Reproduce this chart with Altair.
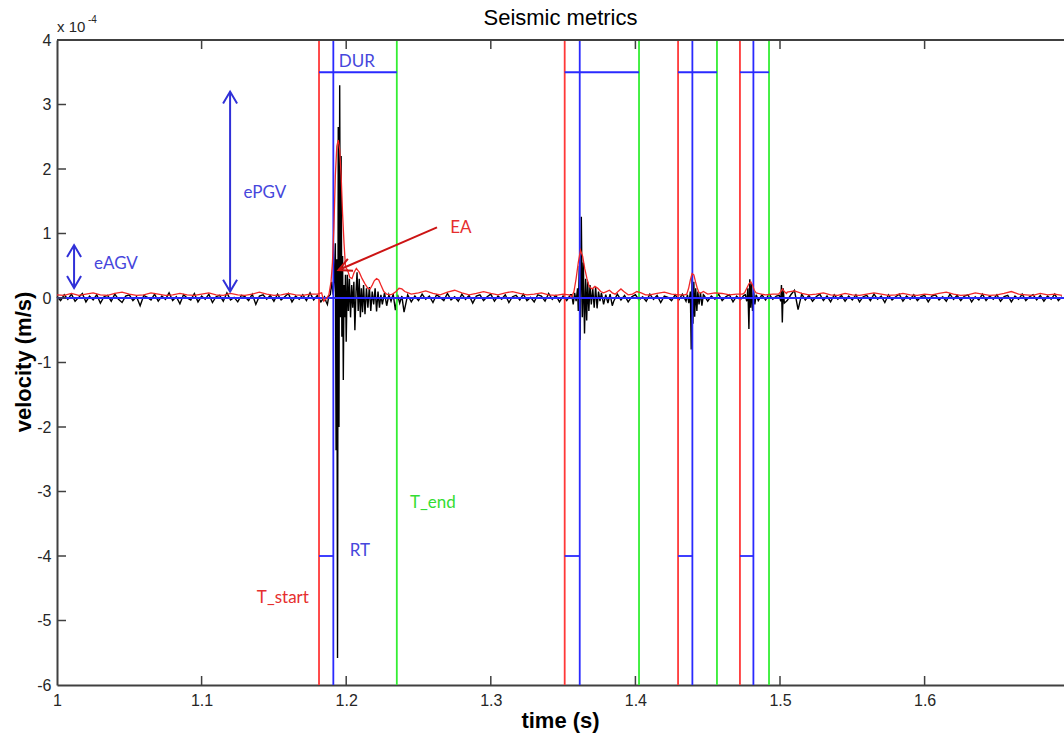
import altair as alt
import pandas as pd

# ---------------- axes ----------------
X_DOMAIN = [1.0, 1.6964]
Y_DOMAIN = [-6, 4]
W, H = 1007, 645
x_tick_values = [1.0, 1.1, 1.2, 1.3, 1.4, 1.5, 1.6]
y_tick_values = [-6, -5, -4, -3, -2, -1, 0, 1, 2, 3, 4]

# ---------------- picked times (s) ----------------
t_start = [1.1812, 1.3511, 1.4295, 1.4723]
t_peak = [1.1911, 1.3615, 1.4394, 1.4816]
t_end = [1.2350, 1.4025, 1.4564, 1.4924]
dur_level = 3.5     # x 1e-4 m/s
rt_level = -4.0

# ---------------- velocity trace (x 1e-4 m/s) ----------------
bg_t0, bg_dt = 1.0, 0.0025
black_bg = [
    0.02, -0.04, 0.05, -0.02, 0.06, -0.05, 0.01, 0.07, -0.06, 0.03, -0.03, 0.05, -0.08, 0.02, 0.04, -0.05, 0.06, -0.02, -0.07, 0.03,
    0.05, -0.04, 0.02, -0.12, 0.04, 0.01, -0.03, 0.06, -0.05, 0.03, -0.02, 0.08, -0.04, 0.02, -0.09, 0.05, 0.00, -0.03, 0.07, -0.06,
    0.03, -0.02, 0.06, -0.07, 0.02, 0.04, -0.05, 0.08, -0.03, 0.01, -0.06, 0.04, 0.02, -0.04, 0.06, -0.10, 0.03, 0.05, -0.02, 0.04,
    -0.05, 0.06, -0.03, 0.02, 0.07, -0.06, 0.03, -0.02, 0.05, -0.04, 0.08, -0.03, 0.04, -0.06, 0.02, 0.05, -0.08, 0.03, -0.04, 0.05,
    0.06, -0.05, 0.03, -0.04, 0.07, -0.03, 0.05, -0.06, 0.02, 0.04, -0.05, 0.06, -0.03, 0.02, -0.07, 0.05, -0.02, 0.05, -0.06, 0.03,
    -0.04, 0.06, -0.02, 0.03, -0.07, 0.05, 0.01, -0.04, 0.07, -0.03, 0.02, -0.05, 0.06, -0.02, 0.04, -0.08, 0.03, 0.05, -0.04, 0.02,
    0.06, -0.05, 0.03, -0.02, 0.05, -0.07, 0.02, 0.04, -0.03, 0.06, -0.04, 0.01, -0.06, 0.05, 0.03, -0.05, 0.07, -0.02, 0.04, -0.06,
    0.03, -0.04, 0.05, -0.03, 0.06, -0.05, 0.04, -0.02, 0.05, -0.06, 0.03, -0.04, 0.02, -0.03, -0.05, 0.06, -0.03, 0.04, -0.06, 0.02,
    0.05, -0.03, 0.02, -0.05, 0.06, -0.02, 0.04, -0.07, 0.03, 0.01, -0.04, 0.05, -0.03, 0.06, -0.05, 0.03, -0.04, 0.05, -0.02, 0.04,
    -0.05, 0.03, -0.02, 0.06, -0.04, 0.02, 0.05, -0.06, 0.03, -0.03, 0.04, -0.02, 0.05, -0.03, -0.04, 0.05, -0.03, 0.06, -0.02, 0.03,
    0.04, -0.03, -0.04, 0.05, 0.12, -0.18, 0.06, -0.03, 0.04, -0.05, 0.02, 0.06, -0.04, 0.03, -0.06, 0.05, -0.02, 0.04, -0.05, 0.03,
    -0.03, 0.05, -0.06, 0.02, 0.04, -0.04, 0.06, -0.02, 0.03, -0.07, 0.05, -0.03, 0.02, 0.06, -0.05, 0.03, -0.02, 0.05, -0.04, 0.02,
    0.04, -0.06, 0.03, 0.05, -0.03, 0.02, -0.05, 0.06, -0.02, 0.04, -0.04, 0.03, 0.05, -0.06, 0.02, -0.03, 0.06, -0.04, 0.03, -0.02,
    0.05, -0.05, 0.02, 0.04, -0.06, 0.03, -0.02, 0.06, -0.04, 0.02, 0.05, -0.03, 0.04, -0.05, 0.03, -0.02, 0.06, -0.04, 0.02, 0.03,
]
black_ev1 = [
    (1.1860, -0.05), (1.1870, -0.10), (1.1880, 0.03), (1.1890, 0.05), (1.1900, 0.25), (1.1910, 0.05),
    (1.1918, 0.30), (1.1925, 0.85), (1.1930, -2.36), (1.1935, 0.60), (1.1940, -5.58), (1.1945, 2.65),
    (1.1950, -2.00), (1.1955, 3.30), (1.1960, -0.30), (1.1965, 2.20), (1.1970, -0.60), (1.1975, 0.65),
    (1.1980, -1.27), (1.1985, 0.20), (1.1990, -0.30), (1.1995, 0.36), (1.2000, -0.68), (1.2008, 0.36),
    (1.2015, -0.20), (1.2022, 0.30), (1.2030, -0.30), (1.2038, 0.20), (1.2045, -0.15), (1.2053, 0.25),
    (1.2060, -0.50), (1.2068, 0.10), (1.2075, 0.40), (1.2083, -0.20), (1.2090, 0.30), (1.2098, -0.30),
    (1.2105, 0.15), (1.2113, -0.22), (1.2120, 0.20), (1.2130, -0.25), (1.2140, 0.15), (1.2150, -0.15),
    (1.2160, 0.17), (1.2170, -0.20), (1.2180, 0.10), (1.2190, -0.10), (1.2200, 0.15), (1.2210, -0.21),
    (1.2220, 0.10), (1.2230, -0.15), (1.2240, 0.05), (1.2250, -0.10), (1.2265, 0.08), (1.2280, -0.12),
    (1.2295, 0.05), (1.2310, -0.05), (1.2325, 0.06), (1.2340, -0.19), (1.2355, 0.05), (1.2370, -0.08),
    (1.2385, 0.03), (1.2400, -0.22),
]
black_ev2 = [
    (1.3560, 0.05), (1.3570, -0.10), (1.3580, 0.08), (1.3590, -0.05), (1.3600, 0.15), (1.3605, -0.20),
    (1.3612, 0.50), (1.3618, -0.65), (1.3626, 1.26), (1.3633, -0.30), (1.3640, 0.55), (1.3648, -0.55),
    (1.3656, 0.30), (1.3663, -0.35), (1.3670, 0.25), (1.3678, -0.20), (1.3686, 0.20), (1.3695, -0.10),
    (1.3705, 0.15), (1.3715, -0.15), (1.3725, 0.17), (1.3735, -0.16), (1.3745, 0.10), (1.3755, -0.05),
    (1.3765, 0.08), (1.3780, -0.10), (1.3795, 0.05), (1.3810, -0.08), (1.3825, 0.06), (1.3840, -0.12),
]
black_ev3 = [
    (1.4360, 0.05), (1.4370, -0.08), (1.4380, 0.10), (1.4386, -0.80), (1.4392, 0.33), (1.4398, -0.40),
    (1.4404, 0.25), (1.4410, -0.29), (1.4417, 0.15), (1.4425, -0.20), (1.4432, 0.10), (1.4440, -0.10),
    (1.4450, 0.08), (1.4460, -0.12), (1.4470, 0.05),
]
black_ev4 = [
    (1.4760, 0.05), (1.4770, -0.05), (1.4778, 0.15), (1.4785, -0.48), (1.4791, 0.29), (1.4797, -0.15),
    (1.4803, 0.22), (1.4810, -0.20), (1.4818, 0.10), (1.4826, -0.10), (1.4835, 0.05),
]
black_ev5 = [
    (1.4995, 0.04), (1.5005, -0.05), (1.5010, 0.20), (1.5016, -0.38), (1.5022, 0.15), (1.5030, -0.08),
]

# ---------------- envelope (x 1e-4 m/s) ----------------
red_t0, red_dt = 1.0, 0.005
red_bg = [
    0.05, 0.04, 0.07, 0.04, 0.06, 0.08, 0.05, 0.04, 0.07, 0.09, 0.06, 0.04, 0.05, 0.08, 0.06, 0.04, 0.05, 0.07, 0.05, 0.04,
    0.06, 0.08, 0.05, 0.04, 0.07, 0.05, 0.04, 0.06, 0.09, 0.06, 0.04, 0.05, 0.07, 0.05, 0.04, 0.06, 0.05, 0.05, 0.05, 0.05,
    0.05, 0.05, 0.05, 0.05, 0.05, 0.05, 0.05, 0.05, 0.05, 0.06, 0.08, 0.11, 0.07, 0.05, 0.09, 0.12, 0.08, 0.05, 0.07, 0.10,
    0.07, 0.05, 0.08, 0.10, 0.07, 0.05, 0.06, 0.08, 0.05, 0.04, 0.06, 0.05, 0.05, 0.05, 0.05, 0.05, 0.05, 0.05, 0.05, 0.05,
    0.05, 0.05, 0.05, 0.07, 0.09, 0.06, 0.05, 0.05, 0.05, 0.05, 0.06, 0.08, 0.07, 0.05, 0.06, 0.05, 0.05, 0.05, 0.05, 0.06,
    0.05, 0.09, 0.11, 0.07, 0.05, 0.06, 0.08, 0.05, 0.04, 0.07, 0.05, 0.04, 0.06, 0.08, 0.06, 0.04, 0.05, 0.07, 0.05, 0.04,
    0.06, 0.05, 0.07, 0.09, 0.06, 0.04, 0.05, 0.08, 0.06, 0.04, 0.05, 0.07, 0.10, 0.06, 0.05, 0.04, 0.07, 0.05, 0.06, 0.04,
]
red_ev1 = [
    (1.1800, 0.06), (1.1830, 0.08), (1.1845, -0.05), (1.1865, 0.00), (1.1880, 0.05), (1.1895, 0.25),
    (1.1905, 0.55), (1.1915, 1.10), (1.1925, 1.90), (1.1935, 2.35), (1.1945, 2.45), (1.1955, 2.30),
    (1.1965, 1.90), (1.1975, 1.30), (1.1985, 0.85), (1.1995, 0.48), (1.2010, 0.43), (1.2025, 0.32),
    (1.2040, 0.30), (1.2055, 0.40), (1.2070, 0.46), (1.2090, 0.40), (1.2110, 0.30), (1.2130, 0.22),
    (1.2150, 0.15), (1.2165, 0.14), (1.2180, 0.20), (1.2195, 0.27), (1.2210, 0.30), (1.2225, 0.28),
    (1.2240, 0.20), (1.2260, 0.10), (1.2280, 0.06), (1.2300, 0.05), (1.2320, 0.06), (1.2345, 0.10),
    (1.2365, 0.15), (1.2385, 0.14), (1.2405, 0.10), (1.2430, 0.08),
]
red_ev2 = [
    (1.3540, 0.05), (1.3560, 0.02), (1.3575, 0.10), (1.3590, 0.30), (1.3605, 0.55), (1.3620, 0.74),
    (1.3635, 0.65), (1.3650, 0.45), (1.3665, 0.30), (1.3680, 0.18), (1.3700, 0.14), (1.3720, 0.18),
    (1.3740, 0.15), (1.3760, 0.10), (1.3780, 0.08), (1.3800, 0.10), (1.3820, 0.12), (1.3840, 0.08),
    (1.3860, 0.06), (1.3880, 0.10), (1.3900, 0.14), (1.3920, 0.10), (1.3950, 0.05), (1.3980, 0.06),
    (1.4010, 0.10), (1.4040, 0.08), (1.4070, 0.05),
]
red_ev3 = [
    (1.4340, 0.05), (1.4355, 0.06), (1.4368, 0.15), (1.4380, 0.28), (1.4392, 0.38), (1.4404, 0.36),
    (1.4416, 0.25), (1.4428, 0.15), (1.4440, 0.08), (1.4455, 0.08), (1.4470, 0.10),
]
red_ev4 = [
    (1.4740, 0.06), (1.4755, 0.08), (1.4770, 0.15), (1.4785, 0.22), (1.4798, 0.25), (1.4810, 0.20),
    (1.4822, 0.12), (1.4835, 0.08), (1.4850, 0.07), (1.4870, 0.06),
]
red_ev5 = [(1.4990, 0.06), (1.5005, 0.10), (1.5017, 0.14), (1.5030, 0.10), (1.5045, 0.07)]

# ---------------- annotations ----------------
BLUE_TXT, RED_TXT, GREEN_TXT = "#4646dc", "#e62e2e", "#33dd33"
labels = [
    ("DUR", 1.2074, 3.66, BLUE_TXT), ("RT", 1.2094, -3.92, BLUE_TXT),
    ("T_end", 1.2599, -3.18, GREEN_TXT), ("T_start", 1.1562, -4.65, RED_TXT),
    ("EA", 1.2793, 1.085, RED_TXT), ("ePGV", 1.1438, 1.63, BLUE_TXT),
    ("eAGV", 1.0408, 0.53, BLUE_TXT),
]
# double arrows (t, v_low, v_high)
double_arrows = [(1.1197, 0.10, 3.20), (1.0118, 0.155, 0.82)]
# EA arrow: tail -> tip
ea_arrow = [(1.2628, 1.096, 1.1947, 0.434)]


def merge(t0, dt, bg, events):
    pts = [(round(t0 + i * dt, 6), v) for i, v in enumerate(bg)]
    for ev in events:
        lo, hi = min(p[0] for p in ev), max(p[0] for p in ev)
        pts = [p for p in pts if not (lo <= p[0] <= hi)]
        pts += list(ev)
    pts = [p for p in pts if X_DOMAIN[0] <= p[0] <= X_DOMAIN[1]]
    pts.sort()
    return pd.DataFrame(pts, columns=["t", "v"])


black_df = merge(bg_t0, bg_dt, black_bg, [black_ev1, black_ev2, black_ev3, black_ev4, black_ev5])
red_df = merge(red_t0, red_dt, red_bg, [red_ev1, red_ev2, red_ev3, red_ev4, red_ev5])

xs = alt.Scale(domain=X_DOMAIN, nice=False, zero=False)
ys = alt.Scale(domain=Y_DOMAIN, nice=False, zero=False)
AX = "#404040"
FONT = "Liberation Sans"
ANN_FONT = "Lato"

x_axis = alt.Axis(values=x_tick_values, labelExpr="datum.value + ''", ticks=False, domain=True,
                  domainColor=AX, domainWidth=2, labelFont=FONT, labelFontSize=16, labelColor="#262626",
                  labelPadding=7, grid=False, title=None, labelFlush=False, labelOverlap=False)
y_axis = alt.Axis(values=y_tick_values, labelExpr="datum.value + ''", ticks=False, domain=True,
                  domainColor=AX, domainWidth=2, labelFont=FONT, labelFontSize=16, labelColor="#262626",
                  labelPadding=6, grid=False, title=None, labelFlush=False, labelOverlap=False)


def X(field):
    return alt.X(field, scale=xs, axis=x_axis)


def Y(field):
    return alt.Y(field, scale=ys, axis=y_axis)


one = pd.DataFrame({"a": [0]})

black_layer = alt.Chart(black_df).mark_line(color="black", strokeWidth=1.4).encode(
    x=X("t:Q"), y=Y("v:Q"))
red_layer = alt.Chart(red_df).mark_line(color="#f02828", strokeWidth=1.3).encode(
    x=X("t:Q"), y=Y("v:Q"))

vlines = pd.DataFrame(
    [{"t": t, "c": "#ff3838"} for t in t_start]
    + [{"t": t, "c": "#2a2aff"} for t in t_peak]
    + [{"t": t, "c": "#33ee33"} for t in t_end])
vline_layer = alt.Chart(vlines).mark_rule(strokeWidth=1.8).encode(
    x=X("t:Q"), y=alt.value(0), y2=alt.value(H),
    color=alt.Color("c:N", scale=None))

hseg = pd.DataFrame(
    [{"x1": a, "x2": b, "v": dur_level} for a, b in zip(t_start, t_end)]
    + [{"x1": a, "x2": b, "v": rt_level} for a, b in zip(t_start, t_peak)]
    + [{"x1": X_DOMAIN[0], "x2": X_DOMAIN[1], "v": 0.0}])
hseg_layer = alt.Chart(hseg).mark_rule(color="#2a2aff", strokeWidth=1.8).encode(
    x=X("x1:Q"), x2="x2:Q", y=Y("v:Q"))

# tick marks (inward, MATLAB style)
TL = 9
yt = pd.DataFrame({"v": y_tick_values[1:-1]})
xt = pd.DataFrame({"t": x_tick_values[1:]})
left_ticks = alt.Chart(yt).mark_rule(color=AX, strokeWidth=1.5).encode(
    y=Y("v:Q"), x=alt.value(0), x2=alt.value(TL))
top_ticks = alt.Chart(xt).mark_rule(color=AX, strokeWidth=1.5).encode(
    x=X("t:Q"), y=alt.value(0), y2=alt.value(TL))
bot_ticks = alt.Chart(xt).mark_rule(color=AX, strokeWidth=1.5).encode(
    x=X("t:Q"), y=alt.value(H), y2=alt.value(H - TL))
top_border = alt.Chart(one).mark_rule(color=AX, strokeWidth=2).encode(
    x=alt.value(0), x2=alt.value(W), y=alt.value(0))

# arrows
da = pd.DataFrame([{"t": t, "lo": lo, "hi": hi} for t, lo, hi in double_arrows])
da_shaft = alt.Chart(da).mark_rule(color="#3030d8", strokeWidth=2).encode(
    x=X("t:Q"), y=Y("lo:Q"), y2="hi:Q")
heads = pd.DataFrame([{"t": t, "v": hi, "ang": 0} for t, lo, hi in double_arrows]
                     + [{"t": t, "v": lo, "ang": 180} for t, lo, hi in double_arrows])
da_heads = alt.Chart(heads).mark_point(shape="M-1,1.7L0,0L1,1.7", filled=False, size=196,
                                       strokeWidth=2, color="#3030d8", opacity=1).encode(
    x=X("t:Q"), y=Y("v:Q"), angle=alt.Angle("ang:Q", scale=None))
ea = pd.DataFrame([{"t1": a, "v1": b, "t2": c, "v2": d, "ang": 246.5} for a, b, c, d in ea_arrow])
ea_shaft = alt.Chart(ea).mark_rule(color="#cc1414", strokeWidth=2).encode(
    x=X("t1:Q"), x2="t2:Q", y=Y("v1:Q"), y2="v2:Q")
ea_head = alt.Chart(ea).mark_point(shape="M-1,2L0,0L1,2", filled=False, size=169,
                                   strokeWidth=2, color="#cc1414", opacity=1).encode(
    x=X("t2:Q"), y=Y("v2:Q"), angle=alt.Angle("ang:Q", scale=None))

lab_df = pd.DataFrame(labels, columns=["txt", "t", "v", "c"])
lab_layer = alt.Chart(lab_df).mark_text(font=ANN_FONT, fontSize=17, align="center", baseline="middle").encode(
    x=X("t:Q"), y=Y("v:Q"), text="txt:N", color=alt.Color("c:N", scale=None))

# titles
title_layer = alt.Chart(one).mark_text(font=FONT, fontSize=22, align="center", baseline="middle",
                                       color="black").encode(
    x=alt.value(W / 2), y=alt.value(-22), text=alt.value("Seismic metrics"))
ytitle = alt.Chart(one).mark_text(font=FONT, fontSize=22, fontWeight="bold", angle=270, align="center",
                                  baseline="middle", color="black").encode(
    x=alt.value(-33), y=alt.value(322), text=alt.value("velocity (m/s)"))
xtitle = alt.Chart(one).mark_text(font=FONT, fontSize=22, fontWeight="bold", align="center",
                                  baseline="middle", color="black").encode(
    x=alt.value(W / 2), y=alt.value(681), text=alt.value("time (s)"))
exp_a = alt.Chart(one).mark_text(font=FONT, fontSize=15, align="left", baseline="alphabetic",
                                 color="#262626").encode(
    x=alt.value(0), y=alt.value(-8), text=alt.value("x 10"))
exp_b = alt.Chart(one).mark_text(font=FONT, fontSize=10, align="left", baseline="alphabetic",
                                 color="#262626").encode(
    x=alt.value(31), y=alt.value(-17), text=alt.value("-4"))

chart = alt.layer(
    black_layer, vline_layer, hseg_layer, red_layer,
    left_ticks, top_ticks, bot_ticks, top_border,
    da_shaft, da_heads, ea_shaft, ea_head, lab_layer,
    title_layer, ytitle, xtitle, exp_a, exp_b,
).properties(
    width=W, height=H, autosize="none",
    padding={"left": 57, "top": 40, "right": 0, "bottom": 52},
    background="white",
).configure_view(stroke=None)

chart.save("out.html", embed_options={"renderer": "svg", "actions": False})
